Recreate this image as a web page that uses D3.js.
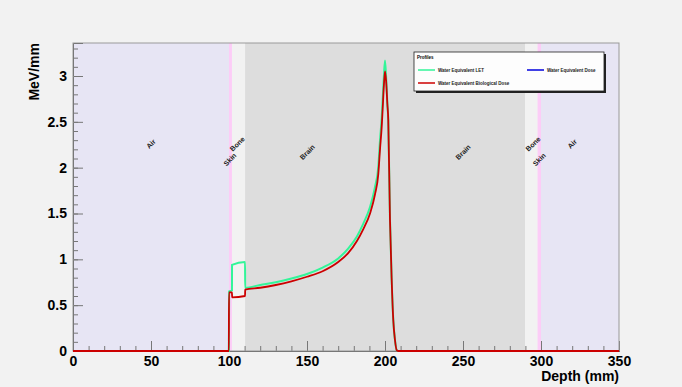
<!DOCTYPE html>
<html>
<head>
<meta charset="utf-8">
<script src="https://cdn.jsdelivr.net/npm/d3@7/dist/d3.min.js"></script>
<style>
  body { margin: 0; background: #f2f2f2; }
  svg { display: block; font-family: "Liberation Sans", Arial, sans-serif; }
</style>
</head>
<body>
<div id="chart"></div>
<script>
// material regions along depth (mm)
const regionNames = ["Air", "Skin", "Bone", "Brain", "Bone", "Skin", "Air"];
const regionStart = [0, 100, 101.9, 110.3, 289.8, 297.8, 300];
const regionEnd = [100, 101.9, 110.3, 289.8, 297.8, 300, 350];
const regionColors = {Air: "#e7e5f4", Skin: "#fccdf7", Bone: "#f2f2f2", Brain: "#dddddd"};

// region labels (depth, MeV/mm)
const labelText = ["Air", "Skin", "Bone", "Brain", "Brain", "Bone", "Skin", "Air"];
const labelDepth = [50, 100.6, 105.3, 150.2, 250, 294.9, 298.9, 320];
const labelValue = [2.26, 2.09, 2.26, 2.17, 2.17, 2.26, 2.09, 2.26];

// Water Equivalent LET
const letDepth = [0, 99.9, 100.1, 101.9, 101.95, 110.3, 110.35, 120, 130, 140, 150, 160, 170, 176.5, 182, 186.1,
  190.4, 193.6, 195.7, 196.8, 197.9, 198.5, 199.3, 200, 200.7, 201.5, 202.1, 203.2, 204.3, 205.3, 206.4, 207.5, 208.5, 350];
const letValue = [0, 0, 0.65, 0.66, 0.94, 0.97, 0.69, 0.72, 0.75, 0.79, 0.84, 0.91, 1.01, 1.12, 1.25, 1.39,
  1.57, 1.79, 2.01, 2.30, 2.55, 2.74, 3.0, 3.17, 3.0, 2.7, 2.52, 1.43, 0.77, 0.34, 0.12, 0.01, 0, 0];

// Water Equivalent Biological Dose
const bioDepth = [0, 99.9, 100.0, 101.9, 102.0, 110.3, 110.35, 120, 130, 140, 150, 160, 170, 176.5, 182, 186.1,
  190.4, 193.6, 195.7, 196.8, 197.9, 198.5, 199.3, 200, 200.7, 201.5, 202.1, 203.2, 204.3, 205.3, 206.4, 207.5, 208.5, 350];
const bioValue = [0, 0, 0.64, 0.64, 0.585, 0.60, 0.67, 0.69, 0.72, 0.76, 0.81, 0.87, 0.97, 1.07, 1.2, 1.33,
  1.5, 1.71, 1.93, 2.2, 2.45, 2.64, 2.9, 3.05, 2.95, 2.7, 2.52, 1.43, 0.77, 0.34, 0.12, 0.01, 0, 0];

const legendTitle = "Profiles";
const legendNames = ["Water Equivalent LET", "Water Equivalent Dose", "Water Equivalent Biological Dose"];
const legendColors = ["#33f599", "#0000dd", "#cc0000"];

const width = 682, height = 387;
const margin = {top: 43, right: 63, bottom: 36, left: 73};

const svg = d3.select("#chart").append("svg")
  .attr("width", width)
  .attr("height", height);

svg.append("rect").attr("width", width).attr("height", height).attr("fill", "#f2f2f2");

const x = d3.scaleLinear().domain([0, 350]).range([margin.left, width - margin.right]);
const y = d3.scaleLinear().domain([0, 3.36]).range([height - margin.bottom, margin.top]);

// regions
svg.append("g").selectAll("rect")
  .data(regionNames)
  .enter()
  .append("rect")
  .attr("x", (d, i) => x(regionStart[i]))
  .attr("width", (d, i) => x(regionEnd[i]) - x(regionStart[i]))
  .attr("y", y(3.36))
  .attr("height", y(0) - y(3.36))
  .attr("fill", (d) => regionColors[d]);

// axes, ticks pointing inside
const xMinor = d3.axisBottom(x).tickValues(d3.range(0, 351, 10)).tickSize(-5).tickFormat("");
const xMajor = d3.axisBottom(x).tickValues(d3.range(0, 351, 50)).tickSize(-10).tickPadding(5).tickFormat(d3.format("d"));
const yMinor = d3.axisLeft(y).tickValues(d3.range(0, 3.35, 0.1)).tickSize(-5).tickFormat("");
const yMajor = d3.axisLeft(y).tickValues(d3.range(0, 3.01, 0.5)).tickSize(-10).tickPadding(6).tickFormat(d3.format("~g"));

const gx = svg.append("g").attr("transform", `translate(0,${y(0)})`);
gx.append("g").call(xMinor);
gx.append("g").call(xMajor);
const gy = svg.append("g").attr("transform", `translate(${x(0)},0)`);
gy.append("g").call(yMinor);
gy.append("g").call(yMajor);

svg.selectAll(".domain").attr("stroke", "#555");
svg.selectAll(".tick line").attr("stroke", "#777");
svg.selectAll(".tick text")
  .attr("fill", "#000")
  .style("font-size", "14px")
  .style("font-weight", "bold");

// frame
svg.append("rect")
  .attr("x", x(0)).attr("y", y(3.36))
  .attr("width", x(350) - x(0)).attr("height", y(0) - y(3.36))
  .attr("fill", "none").attr("stroke", "#999");

// region labels
svg.append("g").selectAll("text")
  .data(labelText)
  .enter()
  .append("text")
  .attr("transform", (d, i) => `translate(${x(labelDepth[i])},${y(labelValue[i])}) rotate(-45)`)
  .attr("text-anchor", "middle")
  .attr("dy", "0.35em")
  .style("font-size", "7px")
  .style("font-weight", "bold")
  .attr("fill", "#222")
  .text((d) => d);

// curves
const line = d3.line().x((d) => x(d[0])).y((d) => y(d[1])).curve(d3.curveMonotoneX);
svg.append("path")
  .datum(d3.zip(letDepth, letValue))
  .attr("d", line)
  .attr("fill", "none")
  .attr("stroke", legendColors[0])
  .attr("stroke-width", 2);
svg.append("path")
  .datum(d3.zip(bioDepth, bioValue))
  .attr("d", line)
  .attr("fill", "none")
  .attr("stroke", legendColors[2])
  .attr("stroke-width", 1.8);

// axis titles
svg.append("text")
  .attr("transform", `translate(39,${y(3.36)}) rotate(-90)`)
  .attr("text-anchor", "end")
  .style("font-size", "14px")
  .style("font-weight", "bold")
  .text("MeV/mm");
svg.append("text")
  .attr("x", x(350)).attr("y", 381)
  .attr("text-anchor", "end")
  .style("font-size", "14px")
  .style("font-weight", "bold")
  .text("Depth (mm)");

// legend
const lg = svg.append("g").attr("transform", "translate(414,52)");
lg.append("rect").attr("x", 2).attr("y", 2).attr("width", 190).attr("height", 39).attr("fill", "#222");
lg.append("rect").attr("width", 190).attr("height", 39).attr("fill", "#fdfdfd").attr("stroke", "#222").attr("stroke-width", 0.8);
lg.append("text").attr("x", 3).attr("y", 6.5).style("font-size", "4.5px").style("font-weight", "bold").text(legendTitle);
const entryX = [4, 113, 4];
const entryY = [18, 18, 31];
const entry = lg.selectAll(".entry")
  .data(legendNames)
  .enter()
  .append("g")
  .attr("transform", (d, i) => `translate(${entryX[i]},${entryY[i]})`);
entry.append("line").attr("x1", 0).attr("x2", 17)
  .attr("stroke", (d, i) => legendColors[i]).attr("stroke-width", 1.5);
entry.append("text").attr("x", 20).attr("dy", "0.35em")
  .style("font-size", "4.5px").style("font-weight", "bold").attr("fill", "#222")
  .text((d) => d);
</script>
</body>
</html>
